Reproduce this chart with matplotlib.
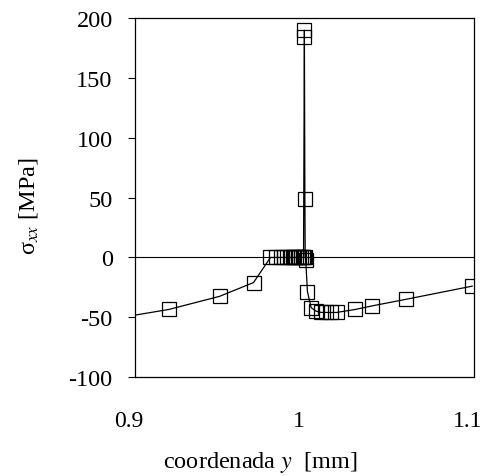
import matplotlib
matplotlib.use("Agg")
import matplotlib.pyplot as plt
import matplotlib.transforms as mtransforms

plt.rcParams['font.family'] = ['Liberation Serif', 'DejaVu Serif']
plt.rcParams['mathtext.fontset'] = 'stix'

# coordinate y [mm]
y_coord = [0.88, 0.92, 0.95, 0.97, 0.98, 0.983, 0.986, 0.988, 0.990, 0.992, 0.993,
           0.994, 0.995, 0.996, 0.997, 0.998, 0.999, 0.9995, 1.0, 1.0, 1.0003,
           1.0005, 1.0008, 1.0018, 1.004, 1.007, 1.010, 1.013, 1.016, 1.019,
           1.030, 1.040, 1.060, 1.099]
# sigma_xx [MPa]
sigma_xx = [-53, -43.5, -32.5, -21, 0, 0, 0, 0, 0, 0, 0,
            0, 0, 0, 0, 0, 0, 0, 184, 190, 49,
            0, -2, -28.5, -42, -45, -46, -46, -46, -46,
            -43.5, -40.5, -35, -24]

x_ticks = [0.9, 1.0, 1.1]
x_ticklabels = ['0.9', '1', '1.1']
y_ticks = [-100, -50, 0, 50, 100, 150, 200]
y_ticklabels = ['-100', '-50', '0', '50', '100', '150', '200']

fig = plt.figure(figsize=(4.87, 4.77), dpi=100)
ax = fig.add_axes([0.277, 0.2075, 0.696, 0.752])

ax.axhline(0, color='black', lw=0.8, zorder=1)
ax.plot(y_coord, sigma_xx, color='black', lw=0.9, marker='s', markersize=9.5,
        markerfacecolor='none', markeredgecolor='black', markeredgewidth=0.9, zorder=3)

ax.set_xlim(0.9, 1.1)
ax.set_ylim(-100, 200)
ax.set_xticks(x_ticks)
ax.set_xticklabels(x_ticklabels)
ax.set_yticks(y_ticks)
ax.set_yticklabels(y_ticklabels)
ax.tick_params(axis='x', length=0, pad=24, labelsize=17)
ax.tick_params(axis='y', direction='out', length=5, width=0.8, pad=11, labelsize=17.5)
for s in ax.spines.values():
    s.set_linewidth(0.9)

shift = mtransforms.ScaledTranslation(-6 / 100, 0, fig.dpi_scale_trans)
for lbl in ax.get_xticklabels():
    lbl.set_transform(lbl.get_transform() + shift)

fig.text(29 / 487, 1 - 206 / 477, 'σ$_{xx}$ [MPa]', rotation=90,
         ha='center', va='center', fontsize=17.5)
fig.text(260 / 487, 1 - 463 / 477, r'coordenada $y$  [mm]',
         ha='center', va='center', fontsize=17.5)

fig.savefig('out.png', dpi=100)
